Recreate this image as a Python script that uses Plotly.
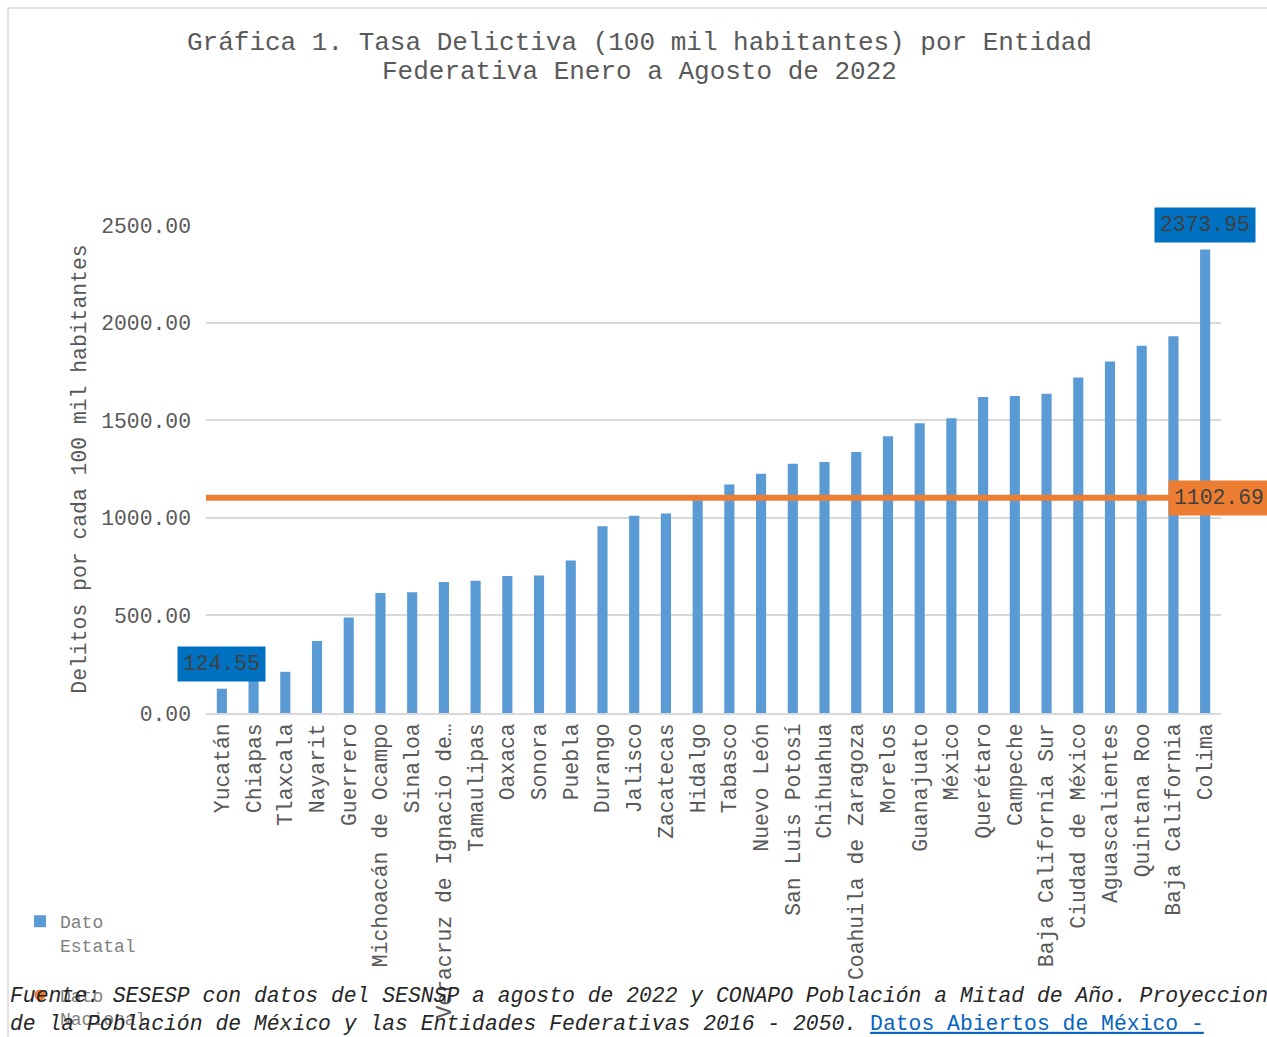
import plotly.graph_objects as go

# ---------------- data ----------------
entidades = [
    "Yucatán", "Chiapas", "Tlaxcala", "Nayarit", "Guerrero", "Michoacán de Ocampo",
    "Sinaloa", "Veracruz de Ignacio de…", "Tamaulipas", "Oaxaca", "Sonora", "Puebla",
    "Durango", "Jalisco", "Zacatecas", "Hidalgo", "Tabasco", "Nuevo León",
    "San Luis Potosí", "Chihuahua", "Coahuila de Zaragoza", "Morelos", "Guanajuato",
    "México", "Querétaro", "Campeche", "Baja California Sur", "Ciudad de México",
    "Aguascalientes", "Quintana Roo", "Baja California", "Colima",
]
tasa_estatal = [
    124.55, 172, 211, 369, 489, 615,
    618, 671, 678, 702, 704, 781,
    957, 1010, 1022, 1090, 1171, 1226,
    1277, 1286, 1337, 1418, 1485,
    1510, 1619, 1624, 1635, 1719,
    1801, 1881, 1930, 2373.95,
]
tasa_nacional = 1102.69
y_ticks = [0, 500, 1000, 1500, 2000, 2500]

titulo_1 = "Gráfica 1. Tasa Delictiva (100 mil habitantes) por Entidad"
titulo_2 = "Federativa Enero a Agosto de 2022"
titulo_y = "Delitos por cada 100 mil habitantes"
fuente_1 = "Fuente: SESESP con datos del SESNSP a agosto de 2022 y CONAPO Población a Mitad de Año. Proyecciones"
fuente_2 = "de la Población de México y las Entidades Federativas 2016 - 2050."
fuente_link = "Datos Abiertos de México -"

# ---------------- layout helpers ----------------
W, H = 1267, 1037
ML, MR, MT, MB = 206, 46, 225, 324
PW = W - ML - MR
PH = H - MT - MB


def px_x(px):
    return (px - ML) / PW


def px_y(py):
    return (H - MB - py) / PH


FONT = "Liberation Mono, Courier New, monospace"
GRAY = "#595959"
BLUE_BAR = "#5B9BD5"
ORANGE = "#ED7D31"
BLUE_LBL = "#0070C0"
GRID = "#D9D9D9"
FS = 21.4

fig = go.Figure()
fig.add_trace(go.Bar(
    x=entidades, y=tasa_estatal, name="Dato<br>Estatal",
    marker=dict(color=BLUE_BAR, line=dict(width=0)), width=0.32,
    legendgroup="estatal", hoverinfo="x+y",
))
fig.add_trace(go.Scatter(
    x=[None], y=[None], mode="markers", name="Dato<br>Nacional",
    marker=dict(color=ORANGE, size=11, symbol="circle"),
    legendgroup="nacional",
))

# national line across the plot
fig.add_shape(type="line", xref="paper", yref="y", x0=0, x1=1,
              y0=tasa_nacional, y1=tasa_nacional,
              line=dict(color=ORANGE, width=6), layer="above")

# chart-area border (decoration)
fig.add_shape(type="rect", xref="paper", yref="paper",
              x0=px_x(8), x1=px_x(W + 10), y0=px_y(H + 10), y1=px_y(8),
              line=dict(color=GRID, width=1.5), fillcolor="rgba(0,0,0,0)", layer="below")

# title (two lines)
for txt, yc in ((titulo_1, 43), (titulo_2, 72)):
    fig.add_annotation(
        xref="paper", yref="paper", x=px_x(639), y=px_y(yc),
        xanchor="center", yanchor="middle", showarrow=False, text=txt,
        font=dict(family=FONT, size=26, color=GRAY),
    )

# data labels for min and max
i_min = tasa_estatal.index(min(tasa_estatal))
i_max = tasa_estatal.index(max(tasa_estatal))
for i in (i_min, i_max):
    fig.add_annotation(
        x=entidades[i], y=tasa_estatal[i], xref="x", yref="y",
        text=f"{tasa_estatal[i]:.2f}", showarrow=False,
        yanchor="bottom", yshift=7,
        bgcolor=BLUE_LBL, borderpad=5,
        font=dict(family=FONT, size=FS, color="#404040"),
    )
fig.add_annotation(
    x=entidades[-1], y=tasa_nacional, xref="x", yref="y",
    text=f"{tasa_nacional:.2f}", showarrow=False,
    xanchor="center", yanchor="middle", xshift=14,
    bgcolor=ORANGE, borderpad=5,
    font=dict(family=FONT, size=FS, color="#404040"),
)

# source note
fig.add_annotation(
    xref="paper", yref="paper", x=px_x(8), y=px_y(982), xanchor="left", yanchor="top",
    align="left", showarrow=False,
    text=(f"<i>{fuente_1}</i><br><i>{fuente_2}</i> "
          f"<span style='color:#0563C1'><u>{fuente_link}</u></span>"),
    font=dict(family=FONT, size=FS, color="#262626"),
)

fig.update_layout(
    width=W, height=H,
    margin=dict(l=ML, r=MR, t=MT, b=MB, autoexpand=False),
    paper_bgcolor="white", plot_bgcolor="white",
    font=dict(family=FONT, color=GRAY),
    bargap=0.68,
    showlegend=True,
    legend=dict(
        x=px_x(20), y=px_y(903), xanchor="left", yanchor="top",
        font=dict(family=FONT, size=18, color="#7F7F7F"),
        valign="top", tracegroupgap=24, bgcolor="rgba(0,0,0,0)",
        itemclick=False, itemdoubleclick=False,
    ),
    xaxis=dict(
        type="category", tickangle=-90, showgrid=False,
        tickfont=dict(family=FONT, size=FS, color=GRAY),
        showline=True, linecolor=GRID, linewidth=1.5, ticks="",
        range=[-0.5, len(entidades) - 0.5],
    ),
    yaxis=dict(
        range=[0, 2500], tickvals=y_ticks, tickformat=".2f",
        showgrid=True, gridcolor=GRID, gridwidth=1.5, zeroline=False,
        tickfont=dict(family=FONT, size=FS, color=GRAY),
        ticklabelstandoff=14,
        title=dict(text=titulo_y, font=dict(family=FONT, size=FS, color=GRAY), standoff=8),
    ),
)

fig.write_html("out.html", include_plotlyjs=True, full_html=True,
               config={"displayModeBar": False},
               post_script="document.body.style.margin='0';")
